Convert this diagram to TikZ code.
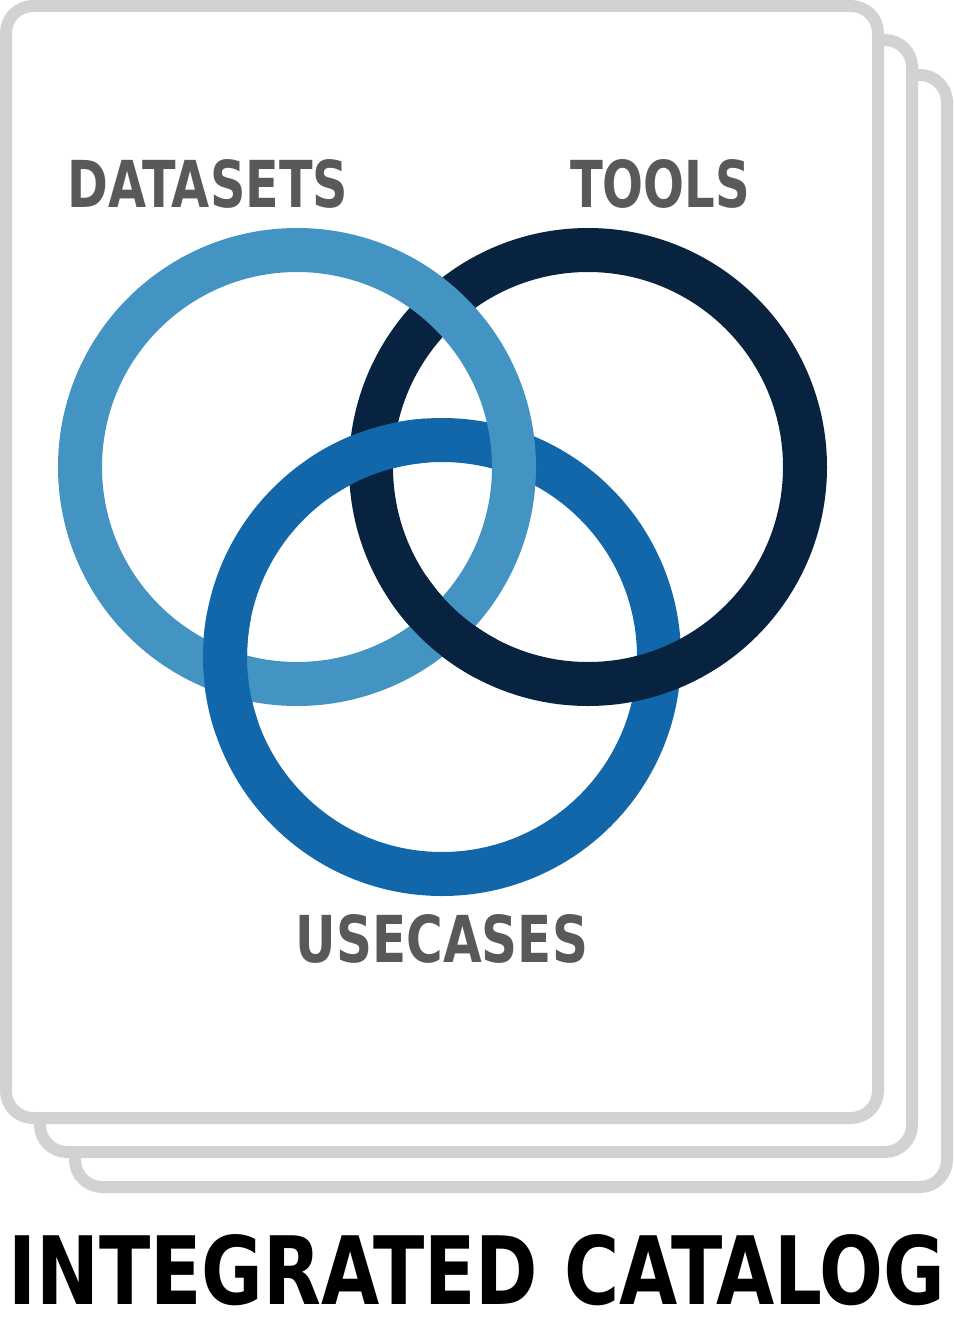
\documentclass[tikz,border=0pt]{standalone}
\usepackage{fontspec}
\usepackage{graphicx}
\newfontfamily\labelfont{DejaVu Sans Condensed Bold}
\definecolor{pagegray}{HTML}{D1D2D4}
\definecolor{labelgray}{HTML}{58595B}
\definecolor{datablue}{HTML}{4393C3}
\definecolor{toolnavy}{HTML}{08233F}
\definecolor{caseblue}{HTML}{1167A9}
\tikzset{
  page/.style={draw=pagegray, line width=12, fill=white, rounded corners=27},
  ring/.style={line width=44},
  setlabel/.style={text=labelgray, inner sep=0pt, font=\labelfont},
}

\begin{document}
\begin{tikzpicture}[x=1pt,y=-1pt]
\useasboundingbox (0,0) rectangle (953,1322);
% Stacked catalogue pages, back to front
\foreach \o in {69,34,0} {
  \draw[page] (6+\o, 6+\o) rectangle (878+\o, 1118+\o);
}
% Three rings: usecases, tools, datasets
\foreach \cx/\cy/\col in {442/657/caseblue, 588/467/toolnavy, 297/467/datablue} {
  \draw[ring, \col] (\cx,\cy) circle (217);
}
% Interlacing: put the lower rings back on top where they pass over
\draw[ring, toolnavy] (588,467) ++(118:217) arc[start angle=118, end angle=146, radius=217];
\draw[ring, caseblue] (442,657) ++(161:217) arc[start angle=161, end angle=191, radius=217];
\draw[ring, caseblue] (442,657) ++(236:217) arc[start angle=236, end angle=266, radius=217];
% Labels
\node[setlabel] (datasets) at (208,184) {\resizebox{280pt}{48pt}{DATASETS}};
\node[setlabel] (tools) at (660,184) {\resizebox{180pt}{48pt}{TOOLS}};
\node[setlabel] (usecases) at (442,939) {\resizebox{292pt}{48pt}{USECASES}};
\node[inner sep=0pt, font=\labelfont] (title) at (476.5,1270)
  {\resizebox{936pt}{70pt}{INTEGRATED CATALOG}};
\end{tikzpicture}
\end{document}
